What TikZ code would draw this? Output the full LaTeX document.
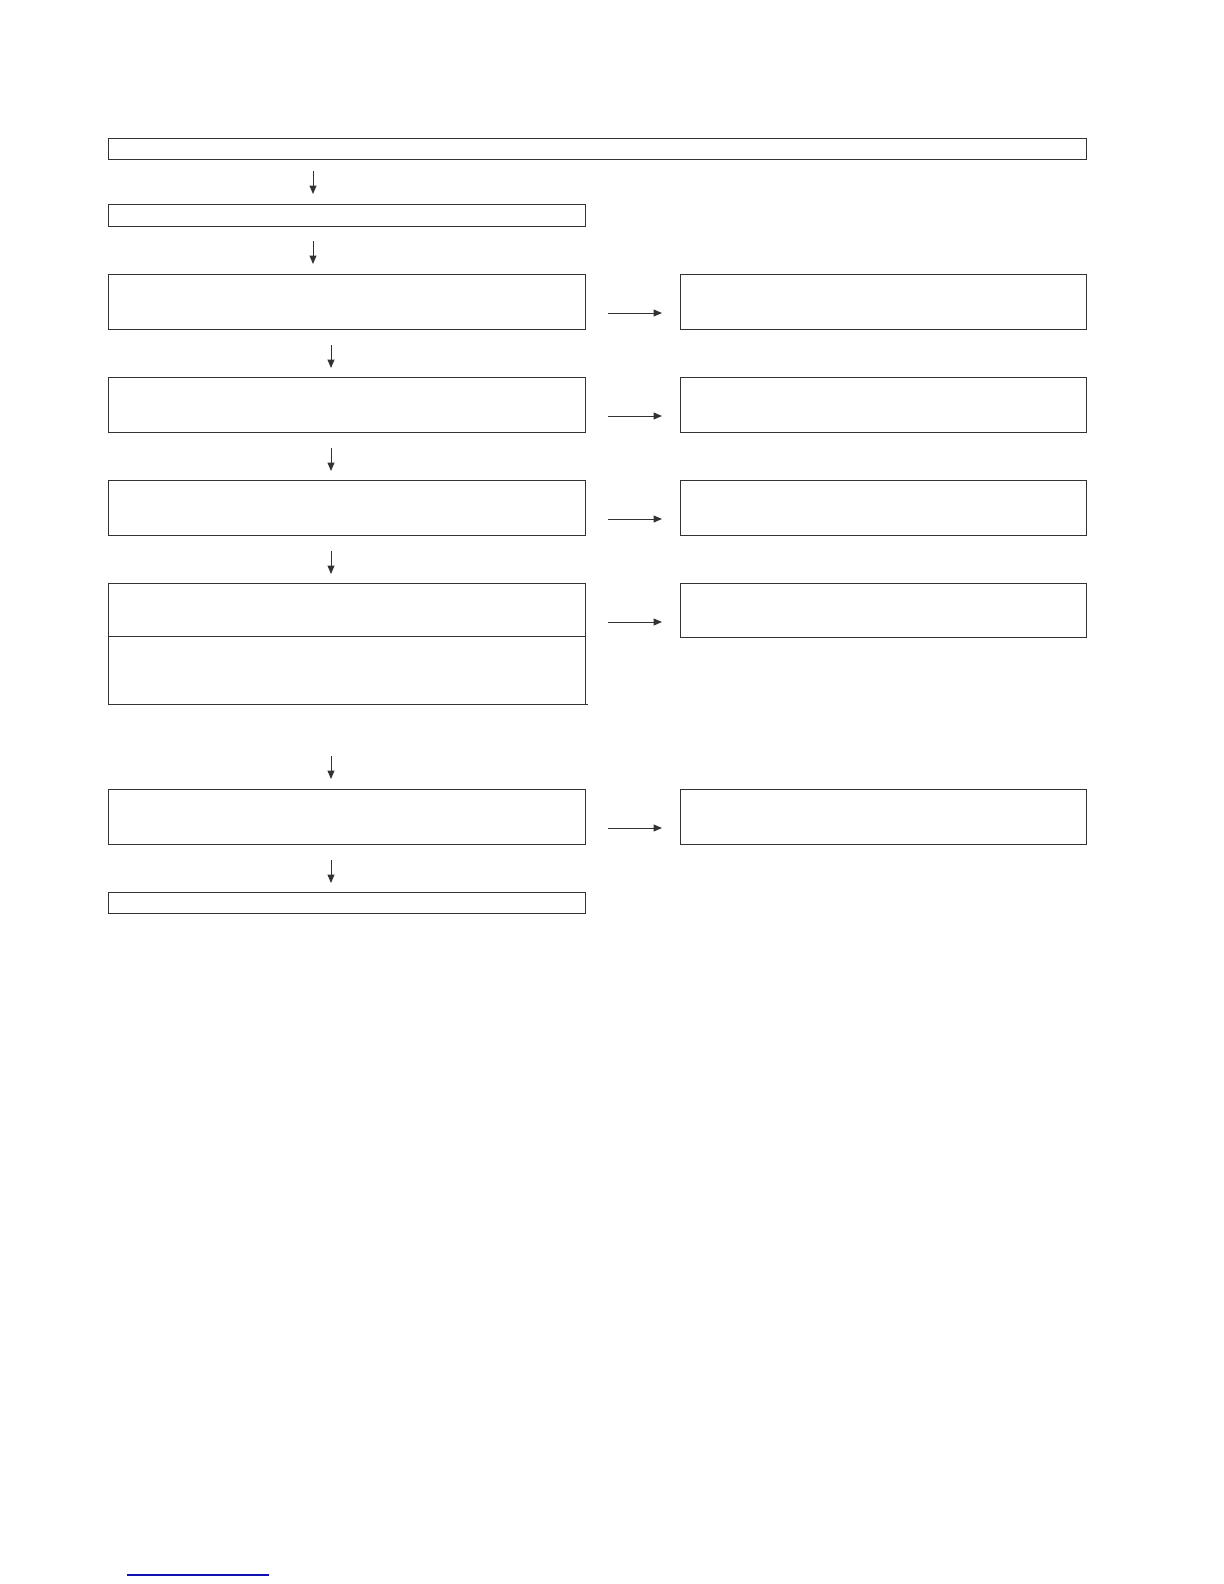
\documentclass[tikz,border=0pt]{standalone}
\usetikzlibrary{arrows.meta}
\begin{document}
\begin{tikzpicture}[x=1.0101pt,y=-1.0101pt,
  box/.style={draw=boxgray,line width=1pt},
  conn/.style={draw=boxgray,line width=1pt,-{Triangle[length=8.5pt,width=7pt]}}]
\definecolor{boxgray}{HTML}{333333}
\definecolor{linkblue}{HTML}{1010B0}
\useasboundingbox (0,0) rectangle (1224,1584);
% left column boxes
\path[box] (108,138) rectangle (1086,159);
\path[box] (108,204) rectangle (585,226);
\path[box] (108,274) rectangle (585,329);
\path[box] (108,377) rectangle (585,432);
\path[box] (108,480) rectangle (585,535);
\path[box] (108,583) rectangle (585,704);
\draw[boxgray,line width=1pt] (108,636) -- (585,636);
\draw[boxgray,line width=1pt] (585,704) -- (588,704);
\path[box] (108,789) rectangle (585,844);
\path[box] (108,892) rectangle (585,913);
% right column boxes
\path[box] (680,274) rectangle (1086,329);
\path[box] (680,377) rectangle (1086,432);
\path[box] (680,480) rectangle (1086,535);
\path[box] (680,583) rectangle (1086,637);
\path[box] (680,789) rectangle (1086,844);
% arrow end points
\coordinate (v1s) at (313,171); \coordinate (v1e) at (313,194);
\coordinate (v2s) at (313,241); \coordinate (v2e) at (313,264);
\coordinate (v3s) at (331,345); \coordinate (v3e) at (331,368);
\coordinate (v4s) at (331,448); \coordinate (v4e) at (331,471);
\coordinate (v5s) at (331,551); \coordinate (v5e) at (331,574);
\coordinate (v6s) at (331,756); \coordinate (v6e) at (331,779);
\coordinate (v7s) at (331,860); \coordinate (v7e) at (331,883);
\coordinate (h1s) at (608,313); \coordinate (h1e) at (662,313);
\coordinate (h2s) at (608,416); \coordinate (h2e) at (662,416);
\coordinate (h3s) at (608,519); \coordinate (h3e) at (662,519);
\coordinate (h4s) at (608,622); \coordinate (h4e) at (662,622);
\coordinate (h5s) at (608,828); \coordinate (h5e) at (662,828);
\foreach \a in {v1,v2,v3,v4,v5,v6,v7,h1,h2,h3,h4,h5}
  \draw[conn] (\a s) -- (\a e);
% blue rule at bottom
\coordinate (bl1) at (127,1575); \coordinate (bl2) at (269,1575);
\draw[linkblue,line width=1.3pt] (bl1) -- (bl2);
\end{tikzpicture}
\end{document}
